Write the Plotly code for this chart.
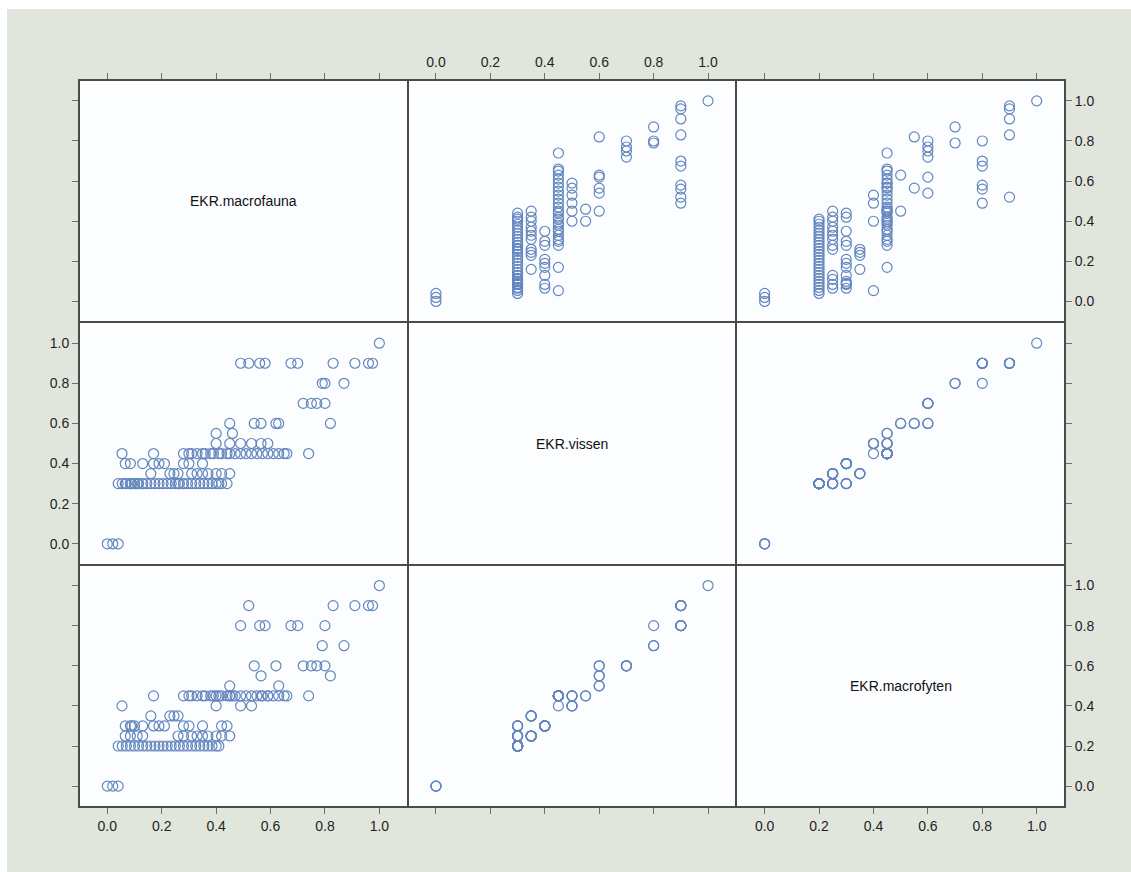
import plotly.graph_objects as go
from plotly.subplots import make_subplots

# Ecological quality ratios (EKR) per water body, one entry per observation.
# Each source line groups observations that share the same vissen/macrofyten score.
EKR_macrofauna = [
    0.0, 0.02, 0.04,
    0.04, 0.055, 0.07, 0.085, 0.10, 0.115, 0.13, 0.145, 0.16, 0.175, 0.19, 0.205, 0.22,
    0.235, 0.25, 0.265, 0.28, 0.295, 0.31, 0.325, 0.34, 0.355, 0.37, 0.385, 0.40, 0.41,
    0.066, 0.085, 0.11, 0.13, 0.26, 0.28,
    0.09, 0.10, 0.42, 0.44,
    0.31, 0.33, 0.35, 0.37, 0.40, 0.42, 0.45,
    0.16, 0.23, 0.245, 0.26,
    0.066, 0.085, 0.13, 0.17, 0.19, 0.21, 0.28, 0.30, 0.35,
    0.054,
    0.17, 0.28, 0.30, 0.31, 0.33, 0.35, 0.36, 0.38, 0.39, 0.41, 0.42, 0.44, 0.45,
    0.47, 0.49, 0.51, 0.53, 0.55, 0.57, 0.59, 0.61, 0.63, 0.65, 0.66, 0.74,
    0.40, 0.49, 0.53,
    0.45, 0.565, 0.59,
    0.40, 0.46,
    0.45, 0.63,
    0.565, 0.82,
    0.54, 0.62,
    0.72, 0.75, 0.77, 0.80,
    0.79, 0.87,
    0.80,
    0.49, 0.56, 0.58, 0.675, 0.70,
    0.52, 0.83, 0.91, 0.96, 0.975,
    1.0,
]

EKR_vissen = [
    0.0, 0.0, 0.0,
    0.3, 0.3, 0.3, 0.3, 0.3, 0.3, 0.3, 0.3, 0.3, 0.3, 0.3, 0.3, 0.3,
    0.3, 0.3, 0.3, 0.3, 0.3, 0.3, 0.3, 0.3, 0.3, 0.3, 0.3, 0.3, 0.3,
    0.3, 0.3, 0.3, 0.3, 0.3, 0.3,
    0.3, 0.3, 0.3, 0.3,
    0.35, 0.35, 0.35, 0.35, 0.35, 0.35, 0.35,
    0.35, 0.35, 0.35, 0.35,
    0.4, 0.4, 0.4, 0.4, 0.4, 0.4, 0.4, 0.4, 0.4,
    0.45,
    0.45, 0.45, 0.45, 0.45, 0.45, 0.45, 0.45, 0.45, 0.45, 0.45, 0.45, 0.45, 0.45,
    0.45, 0.45, 0.45, 0.45, 0.45, 0.45, 0.45, 0.45, 0.45, 0.45, 0.45, 0.45,
    0.5, 0.5, 0.5,
    0.5, 0.5, 0.5,
    0.55, 0.55,
    0.6, 0.6,
    0.6, 0.6,
    0.6, 0.6,
    0.7, 0.7, 0.7, 0.7,
    0.8, 0.8,
    0.8,
    0.9, 0.9, 0.9, 0.9, 0.9,
    0.9, 0.9, 0.9, 0.9, 0.9,
    1.0,
]

EKR_macrofyten = [
    0.0, 0.0, 0.0,
    0.2, 0.2, 0.2, 0.2, 0.2, 0.2, 0.2, 0.2, 0.2, 0.2, 0.2, 0.2, 0.2,
    0.2, 0.2, 0.2, 0.2, 0.2, 0.2, 0.2, 0.2, 0.2, 0.2, 0.2, 0.2, 0.2,
    0.25, 0.25, 0.25, 0.25, 0.25, 0.25,
    0.3, 0.3, 0.3, 0.3,
    0.25, 0.25, 0.25, 0.25, 0.25, 0.25, 0.25,
    0.35, 0.35, 0.35, 0.35,
    0.3, 0.3, 0.3, 0.3, 0.3, 0.3, 0.3, 0.3, 0.3,
    0.4,
    0.45, 0.45, 0.45, 0.45, 0.45, 0.45, 0.45, 0.45, 0.45, 0.45, 0.45, 0.45, 0.45,
    0.45, 0.45, 0.45, 0.45, 0.45, 0.45, 0.45, 0.45, 0.45, 0.45, 0.45, 0.45,
    0.4, 0.4, 0.4,
    0.45, 0.45, 0.45,
    0.45, 0.45,
    0.5, 0.5,
    0.55, 0.55,
    0.6, 0.6,
    0.6, 0.6, 0.6, 0.6,
    0.7, 0.7,
    0.8,
    0.8, 0.8, 0.8, 0.8, 0.8,
    0.9, 0.9, 0.9, 0.9, 0.9,
    1.0,
]

variable_names = ["EKR.macrofauna", "EKR.vissen", "EKR.macrofyten"]
tick_values = [0.0, 0.2, 0.4, 0.6, 0.8, 1.0]
tick_labels = ["0.0", "0.2", "0.4", "0.6", "0.8", "1.0"]

columns = [EKR_macrofauna, EKR_vissen, EKR_macrofyten]
n = len(columns)
axis_range = [-0.104, 1.104]

FONT = "Liberation Sans, Arial, sans-serif"
FRAME = "#4a4a4a"
POINT = "#6386bf"
TICKFONT = dict(family=FONT, size=14, color="#1f1f1f")

fig = make_subplots(rows=n, cols=n, horizontal_spacing=0, vertical_spacing=0)

for i in range(n):
    for j in range(n):
        r, c = i + 1, j + 1
        if i != j:
            fig.add_trace(
                go.Scatter(
                    x=columns[j], y=columns[i], mode="markers",
                    marker=dict(symbol="circle-open", size=10, color=POINT,
                                line=dict(width=1.2, color=POINT)),
                    hoverinfo="skip", showlegend=False,
                ),
                row=r, col=c,
            )
        else:
            # diagonal cell: hidden trace so the panel (frame and ticks) is kept
            fig.add_trace(
                go.Scatter(
                    x=columns[j], y=columns[i], mode="markers",
                    marker=dict(size=1, opacity=0),
                    hoverinfo="skip", showlegend=False,
                ),
                row=r, col=c,
            )

        # x axis: ticks on the outer rows only, labels alternate top/bottom
        xa = dict(range=axis_range, tickvals=tick_values, ticktext=tick_labels,
                  showgrid=False, zeroline=False, showline=True, mirror=True,
                  linecolor=FRAME, linewidth=1, ticklen=6, tickcolor="#707070",
                  tickwidth=1, tickfont=TICKFONT)
        if i == 0:
            xa.update(side="top", ticks="outside", showticklabels=(j == 1))
        elif i == n - 1:
            xa.update(side="bottom", ticks="outside", showticklabels=(j != 1))
        else:
            xa.update(ticks="", showticklabels=False)
        fig.update_xaxes(row=r, col=c, **xa)

        # y axis: ticks on the outer columns only, labels alternate left/right
        ya = dict(range=axis_range, tickvals=tick_values, ticktext=tick_labels,
                  showgrid=False, zeroline=False, showline=True, mirror=True,
                  linecolor=FRAME, linewidth=1, ticklen=6, tickcolor="#707070",
                  tickwidth=1, tickfont=TICKFONT)
        if j == 0:
            ya.update(side="left", ticks="outside", showticklabels=(i == 1))
        elif j == n - 1:
            ya.update(side="right", ticks="outside", showticklabels=(i != 1))
        else:
            ya.update(ticks="", showticklabels=False)
        fig.update_yaxes(row=r, col=c, **ya)

# variable names on the diagonal
for k, name in enumerate(variable_names):
    idx = k * n + k + 1
    suffix = "" if idx == 1 else str(idx)
    fig.add_annotation(
        text=name, x=0.5, y=0.5, xref=f"x{suffix} domain", yref=f"y{suffix} domain",
        showarrow=False, font=dict(family=FONT, size=14, color="#111"),
    )

W, H = 1131, 872
ml, mr, mt, mb = 79, 66, 80, 65
pw, ph = W - ml - mr, H - mt - mb


def px_x(p):
    return (p - ml) / pw


def px_y(p):
    return 1 - (p - mt) / ph


# outer frame around the whole panel grid
fig.add_shape(type="rect", xref="paper", yref="paper", layer="above",
              x0=0, x1=1, y0=0, y1=1, line=dict(width=2, color=FRAME))

# thin white border along the left and top edges of the page
fig.add_shape(type="rect", xref="paper", yref="paper", layer="above",
              x0=px_x(0), x1=px_x(W), y0=px_y(0), y1=px_y(9),
              fillcolor="white", line=dict(width=0))
fig.add_shape(type="rect", xref="paper", yref="paper", layer="above",
              x0=px_x(0), x1=px_x(7), y0=px_y(0), y1=px_y(H),
              fillcolor="white", line=dict(width=0))

fig.update_layout(
    width=W, height=H,
    margin=dict(l=ml, r=mr, t=mt, b=mb),
    paper_bgcolor="#e1e6dc",
    plot_bgcolor="#fcfdff",
    showlegend=False,
)

fig.write_html("out.html")
